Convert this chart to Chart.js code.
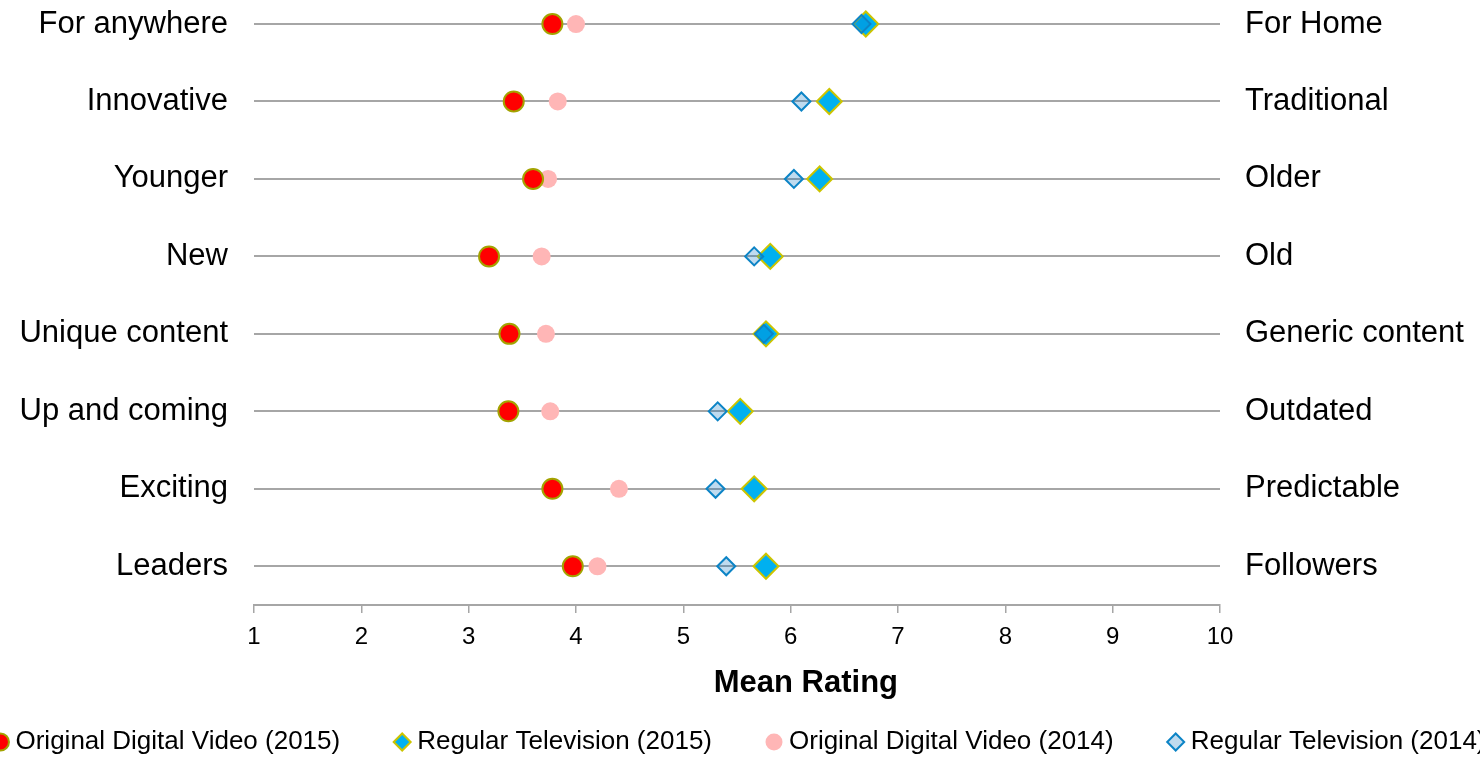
<!DOCTYPE html>
<html>
<head>
<meta charset="utf-8">
<title>Mean Rating</title>
<script src="https://cdn.jsdelivr.net/npm/chart.js@4.4.1/dist/chart.umd.min.js"></script>
<style>
  html, body { margin: 0; padding: 0; background: #fff; overflow: hidden; }
  /* canvas a bit wider than the window so the legend can run off both edges like the original */
  #wrap { position: absolute; left: -88px; top: 0; width: 1660px; height: 765px; }
</style>
</head>
<body>
<div id="wrap"><canvas id="grafico" width="1660" height="765"></canvas></div>
<script>
// rows top to bottom
const leftLabels = ['For anywhere', 'Innovative', 'Younger', 'New', 'Unique content', 'Up and coming', 'Exciting', 'Leaders'];
const rightLabels = ['For Home', 'Traditional', 'Older', 'Old', 'Generic content', 'Outdated', 'Predictable', 'Followers'];

const seriesNames = ['Original Digital Video (2015)', 'Regular Television (2015)', 'Original Digital Video (2014)', 'Regular Television (2014)'];
const odv2015 = [3.78, 3.42, 3.60, 3.19, 3.38, 3.37, 3.78, 3.97];
const rt2015  = [6.70, 6.36, 6.27, 5.81, 5.77, 5.53, 5.66, 5.77];
const odv2014 = [4.00, 3.83, 3.74, 3.68, 3.72, 3.76, 4.40, 4.20];
const rt2014  = [6.66, 6.10, 6.03, 5.66, 5.75, 5.32, 5.30, 5.40];

const xTicks = [1, 2, 3, 4, 5, 6, 7, 8, 9, 10];
const axisTitle = 'Mean Rating';

// each row sits on a half step: top row = 7.5 ... bottom row = 0.5
const rowY = leftLabels.map((_, i) => leftLabels.length - 0.5 - i);
const rowIndex = v => rowY.indexOf(v);
const toPoints = values => values.map((v, i) => ({ x: v, y: rowY[i] }));

Chart.defaults.font.family = '"Liberation Sans", Arial, sans-serif';
Chart.defaults.color = '#000';

const gray = '#A6A6A6';

// the row label axes must not push the plot area down
function fixY(width) {
  return s => { s.width = width; s.paddingTop = 0; s.paddingBottom = 0; };
}

new Chart(document.getElementById('grafico'), {
  type: 'scatter',
  data: {
    datasets: [
      {
        label: seriesNames[0], data: toPoints(odv2015), order: 0,
        pointStyle: 'circle', pointRadius: 10, borderWidth: 2,
        backgroundColor: '#FF0000', borderColor: '#A3A300'
      },
      {
        label: seriesNames[1], data: toPoints(rt2015), order: 2,
        pointStyle: 'rectRot', pointRadius: 12.5, borderWidth: 2,
        backgroundColor: '#00B0F0', borderColor: '#CCC400'
      },
      {
        label: seriesNames[2], data: toPoints(odv2014), order: 3,
        pointStyle: 'circle', pointRadius: 9, borderWidth: 0,
        backgroundColor: '#FFB6B6', borderColor: '#FFB6B6'
      },
      {
        label: seriesNames[3], data: toPoints(rt2014), order: 1,
        pointStyle: 'rectRot', pointRadius: 9, borderWidth: 2,
        backgroundColor: 'rgba(0,112,192,0.25)', borderColor: '#0C84C6'
      }
    ]
  },
  options: {
    responsive: false,
    animation: false,
    events: [],
    layout: { padding: 0, autoPadding: false },
    plugins: {
      tooltip: { enabled: false },
      legend: {
        display: true,
        position: 'bottom',
        labels: {
          usePointStyle: true,
          boxWidth: 4,
          boxHeight: 12,
          padding: 60,
          color: '#000',
          font: { size: 26 },
          sort: (a, b) => a.datasetIndex - b.datasetIndex
        }
      }
    },
    scales: {
      x: {
        type: 'linear',
        min: xTicks[0],
        max: xTicks[xTicks.length - 1],
        afterBuildTicks: s => { s.ticks = xTicks.map(v => ({ value: v })); },
        afterFit: s => { s.height = 64; },
        border: { display: true, color: gray, width: 2 },
        grid: { drawOnChartArea: false, drawTicks: true, tickLength: 8, color: gray, lineWidth: 1.5 },
        ticks: { font: { size: 24 }, padding: 10, color: '#000' },
        title: {
          display: true,
          // leading spaces push the title right of the axis centre, as in the original
          text: ' '.repeat(16) + axisTitle,
          color: '#000',
          font: { size: 31, weight: 'bold' },
          padding: { top: 0, bottom: -33 }
        }
      },
      y: {
        type: 'linear',
        position: 'left',
        min: 0,
        max: 7.81,
        afterBuildTicks: s => { s.ticks = rowY.map(v => ({ value: v })); },
        afterFit: fixY(342),
        border: { display: false },
        grid: { drawTicks: false, color: gray, lineWidth: 2 },
        ticks: {
          font: { size: 31 },
          padding: 26,
          color: '#000',
          callback: v => leftLabels[rowIndex(v)]
        }
      },
      yRight: {
        type: 'linear',
        position: 'right',
        min: 0,
        max: 7.81,
        afterBuildTicks: s => { s.ticks = rowY.map(v => ({ value: v })); },
        afterFit: fixY(352),
        border: { display: false },
        grid: { display: false, drawTicks: false },
        ticks: {
          font: { size: 31 },
          padding: 25,
          color: '#000',
          callback: v => rightLabels[rowIndex(v)]
        }
      }
    }
  }
});
</script>
</body>
</html>
